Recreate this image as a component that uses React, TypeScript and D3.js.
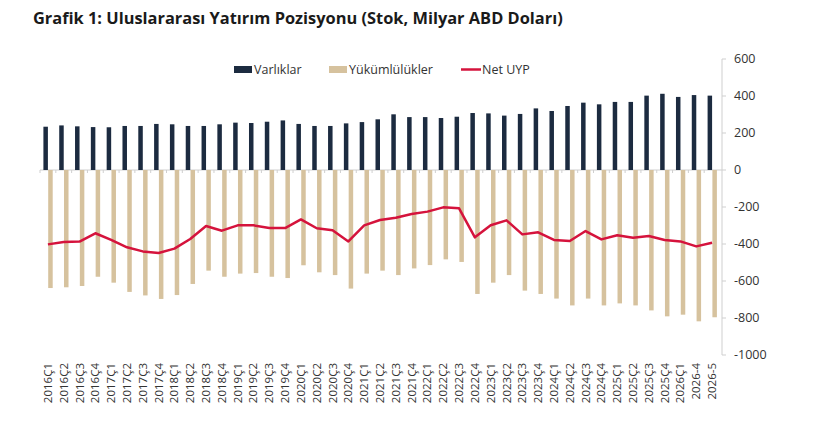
import React from 'react';
import * as d3 from 'd3';

const categories = [
  '2016Ç1', '2016Ç2', '2016Ç3', '2016Ç4', '2017Ç1', '2017Ç2', '2017Ç3', '2017Ç4',
  '2018Ç1', '2018Ç2', '2018Ç3', '2018Ç4', '2019Ç1', '2019Ç2', '2019Ç3', '2019Ç4',
  '2020Ç1', '2020Ç2', '2020Ç3', '2020Ç4', '2021Ç1', '2021Ç2', '2021Ç3', '2021Ç4',
  '2022Ç1', '2022Ç2', '2022Ç3', '2022Ç4', '2023Ç1', '2023Ç2', '2023Ç3', '2023Ç4',
  '2024Ç1', '2024Ç2', '2024Ç3', '2024Ç4', '2025Ç1', '2025Ç2', '2025Ç3', '2025Ç4',
  '2026Ç1', '2026-4', '2026-5',
];

const varliklar = [
  234, 241, 236, 232, 231, 238, 238, 249, 247, 238, 238, 247, 256, 254, 261, 268,
  249, 238, 238, 252, 259, 274, 301, 286, 286, 281, 288, 308, 306, 294, 303, 333,
  319, 346, 364, 355, 368, 368, 402, 412, 395, 405, 402,
];

const yukumlulukler = [
  -638, -634, -627, -577, -609, -659, -678, -697, -676, -616, -544, -577, -560, -557, -577, -584,
  -515, -553, -568, -641, -560, -544, -568, -532, -514, -483, -497, -670, -609, -568, -652, -670,
  -695, -732, -695, -732, -721, -732, -759, -791, -782, -818, -796,
];

const netUyp = [
  -402, -389, -387, -342, -378, -418, -440, -449, -425, -373, -303, -328, -299, -299, -314, -314,
  -267, -315, -326, -386, -299, -270, -258, -238, -225, -202, -207, -364, -299, -272, -348, -337,
  -378, -384, -330, -375, -353, -366, -357, -378, -386, -413, -393,
];

const yTicks = [600, 400, 200, 0, -200, -400, -600, -800, -1000];

const COLOR_ASSETS = '#1c2b40';
const COLOR_LIAB = '#d6c29e';
const COLOR_NET = '#d5133c';
const FONT = '"Open Sans", "Noto Sans", sans-serif';

export default function App() {
  const width = 820;
  const height = 439;
  const axisX = 722;

  const x = d3.scaleBand<string>().domain(categories).range([40, 720]).paddingInner(0).paddingOuter(0);
  const y = d3.scaleLinear().domain([-1000, 600]).range([355, 59]);
  const barW = 4.5;

  const line = d3
    .line<number>()
    .x((_, i) => (x(categories[i]) as number) + x.bandwidth() / 2)
    .y((d) => y(d))
    .curve(d3.curveLinear);

  const legend = [
    { label: 'Varlıklar', x: 234, type: 'rect', color: COLOR_ASSETS },
    { label: 'Yükümlülükler', x: 329, type: 'rect', color: COLOR_LIAB },
    { label: 'Net UYP', x: 461, type: 'line', color: COLOR_NET },
  ];

  return (
    <div style={{ position: 'absolute', left: 0, top: 0 }}>
      <svg width={width} height={height} style={{ display: 'block', background: '#fff' }}>
        <text x={33} y={24} fontFamily={FONT} fontSize={16.4} fontWeight="bold" fill="#1a1a1a">
          Grafik 1: Uluslararası Yatırım Pozisyonu (Stok, Milyar ABD Doları)
        </text>

        {/* Legend */}
        {legend.map((l) => (
          <g key={l.label}>
            {l.type === 'rect' ? (
              <rect x={l.x} y={66} width={18} height={7} fill={l.color} />
            ) : (
              <line x1={l.x} x2={l.x + 20} y1={69.5} y2={69.5} stroke={l.color} strokeWidth={2.5} />
            )}
            <text x={l.x + (l.type === 'rect' ? 20 : 21)} y={74} fontFamily={FONT} fontSize={12.5} fill="#333">
              {l.label}
            </text>
          </g>
        ))}

        {/* Zero line with category ticks */}
        <line x1={40} x2={axisX} y1={y(0)} y2={y(0)} stroke="#cfcfcf" strokeWidth={1} />
        {categories.map((c) => (
          <line key={'t' + c} x1={x(c) as number} x2={x(c) as number} y1={y(0)} y2={y(0) + 3} stroke="#cfcfcf" strokeWidth={1} />
        ))}

        {/* Bars */}
        {categories.map((c, i) => {
          const cx = (x(c) as number) + x.bandwidth() / 2;
          return (
            <g key={c}>
              <rect x={cx - barW} y={y(varliklar[i])} width={barW} height={y(0) - y(varliklar[i])} fill={COLOR_ASSETS} />
              <rect x={cx + 0.3} y={y(0)} width={barW} height={y(yukumlulukler[i]) - y(0)} fill={COLOR_LIAB} />
            </g>
          );
        })}

        {/* Net line */}
        <path d={line(netUyp) || ''} fill="none" stroke={COLOR_NET} strokeWidth={2.5} strokeLinejoin="round" />

        {/* Right axis */}
        <line x1={axisX} x2={axisX} y1={y(600)} y2={y(-1000)} stroke="#cfcfcf" strokeWidth={1} />
        {yTicks.map((t) => (
          <g key={t}>
            <line x1={axisX} x2={axisX + 4} y1={y(t)} y2={y(t)} stroke="#cfcfcf" strokeWidth={1} />
            <text x={734} y={y(t)} dy="0.35em" fontFamily={FONT} fontSize={12.5} fill="#333">
              {t}
            </text>
          </g>
        ))}

        {/* X labels */}
        {categories.map((c) => {
          const cx = (x(c) as number) + x.bandwidth() / 2;
          return (
            <text
              key={'l' + c}
              transform={`translate(${cx + 4},363) rotate(-90)`}
              textAnchor="end"
              fontFamily={FONT}
              fontSize={11.5}
              fill="#333"
            >
              {c}
            </text>
          );
        })}
      </svg>
    </div>
  );
}
